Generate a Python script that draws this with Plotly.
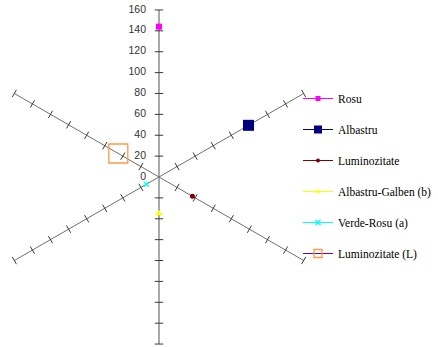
import math
import plotly.graph_objects as go

# ---- data ----
series_names = ["Rosu", "Albastru", "Luminozitate", "Albastru-Galben (b)", "Verde-Rosu (a)", "Luminozitate (L)"]
series_axis = ["v", "A", "B", "v", "A", "B"]
series_values = [144, 99, -37, -35, -14, 45]
label_values = [0, 20, 40, 60, 80, 100, 120, 140, 160]
tick_values = [-160, -140, -120, -100, -80, -60, -40, -20, 20, 40, 60, 80, 100, 120, 140, 160]
axis_limit = 160

# ---- styles ----
marker_colors = ["#FF00FF", "#000080", "#800000", "#FFFF00", "#00FFFF", "#FF9944"]
line_colors = ["#FF00FF", "#000080", "#800000", "#FFFF00", "#00FFFF", "#800080"]
marker_symbols = ["square", "square", "circle", "triangle-up", "x-thin", "square-open"]
marker_sizes = [6, 11, 5, 7, 5, 19]
legend_marker_sizes = [5, 8, 4, 5, 5, 8]

W, H = 438, 347
U = 1.044  # px per unit
OX, OY = 159, 177  # origin in figure pixels
c, s = math.cos(math.radians(30)), 0.5
dirs = {"v": (0.0, 1.0), "A": (c, s), "B": (-c, s)}
perp = {"v": (1.0, 0.0), "A": (-s, c), "B": (s, c)}

fig = go.Figure()

# axis lines
for k in ["A", "B", "v"]:
    dx, dy = dirs[k]
    fig.add_trace(go.Scatter(
        x=[-axis_limit * dx, axis_limit * dx], y=[-axis_limit * dy, axis_limit * dy],
        mode="lines", line=dict(color="#707070", width=1.2 if k == "v" else 1),
        showlegend=False, hoverinfo="skip"))

# ticks
half = 4.2 / U
tx, ty = [], []
for k in ["A", "B", "v"]:
    dx, dy = dirs[k]
    px, py = perp[k]
    for t in tick_values:
        cx, cy = t * dx, t * dy
        tx += [cx - half * px, cx + half * px, None]
        ty += [cy - half * py, cy + half * py, None]
fig.add_trace(go.Scatter(x=tx, y=ty, mode="lines", line=dict(color="#3a3a3a", width=1),
                         showlegend=False, hoverinfo="skip"))

# tick labels on vertical axis
fig.add_trace(go.Scatter(
    x=[-13 / U] * len(label_values), y=label_values, mode="text",
    text=[str(v) for v in label_values], textposition="middle left",
    textfont=dict(family="Liberation Sans, Arial", size=10.5, color="#333333"),
    cliponaxis=False, showlegend=False, hoverinfo="skip"))

# data series (plotted marks)
for i, name in enumerate(series_names):
    dx, dy = dirs[series_axis[i]]
    v = series_values[i]
    sym = marker_symbols[i]
    lw = 1.3 if ("open" in sym or "x" in sym) else 0
    fig.add_trace(go.Scatter(
        x=[v * dx], y=[v * dy], mode="markers", name=name, legendgroup=name,
        showlegend=False, cliponaxis=False,
        marker=dict(symbol=sym, size=marker_sizes[i], color=marker_colors[i],
                    line=dict(color=marker_colors[i], width=lw))))
    # legend entry
    fig.add_trace(go.Scatter(
        x=[None], y=[None], mode="lines+markers", name=name, legendgroup=name,
        line=dict(color=line_colors[i], width=1),
        marker=dict(symbol=sym, size=legend_marker_sizes[i], color=marker_colors[i],
                    line=dict(color=marker_colors[i], width=lw))))

fig.update_layout(
    width=W, height=H,
    margin=dict(l=0, r=0, t=0, b=0),
    paper_bgcolor="white", plot_bgcolor="white",
    xaxis=dict(range=[-OX / U, (W - OX) / U], visible=False, fixedrange=True),
    yaxis=dict(range=[-(H - OY) / U, OY / U], visible=False, fixedrange=True),
    legend=dict(x=(339 - 41) / W, y=1 - 84 / H, xanchor="left", yanchor="top",
                font=dict(family="Liberation Serif, Times New Roman", size=11.5, color="#000000"),
                tracegroupgap=12, itemsizing="trace", bgcolor="rgba(0,0,0,0)"),
    showlegend=True,
)

fig.write_html("out.html", config={"displayModeBar": False},
               post_script="document.body.style.margin='0px';")
